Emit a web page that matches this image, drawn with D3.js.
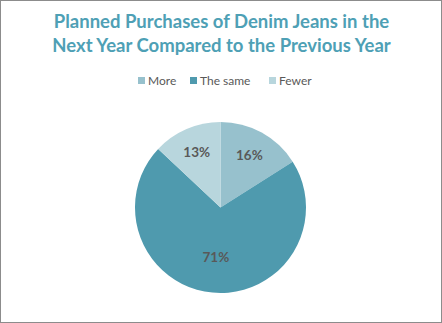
<!DOCTYPE html>
<html><head><meta charset="utf-8">
<script src="https://cdn.jsdelivr.net/npm/d3@7"></script>
<style>body{margin:0;background:#fff}svg{display:block}</style>
</head><body>
<script>
const categories = ["More", "The same", "Fewer"];
const values = [16, 71, 13];
const colors = ["#97c1cd", "#4f9aae", "#b8d6dd"];
const titleLines = ["Planned Purchases of Denim Jeans in the", "Next Year Compared to the Previous Year"];

const W = 442, H = 323;
const svg = d3.select("body").append("svg").attr("width", W).attr("height", H);
svg.append("rect").attr("x", 0.5).attr("y", 0.5).attr("width", W - 1).attr("height", H - 1)
  .attr("fill", "#fff").attr("stroke", "#8c8c8c");

const font = "Lato, 'Open Sans', sans-serif";
svg.selectAll("text.title").data(titleLines).join("text")
  .attr("x", W / 2 + 0.5).attr("y", (d, i) => 28 + i * 24)
  .attr("text-anchor", "middle").attr("font-family", font)
  .attr("font-weight", "bold").attr("font-size", 18.5).attr("fill", "#4ea0b5")
  .text(d => d);

// legend
const legendX = [138, 190, 269];
const lg = svg.append("g");
categories.forEach((c, i) => {
  const g = lg.append("g").attr("transform", `translate(${legendX[i]},77)`);
  g.append("rect").attr("width", 7).attr("height", 7).attr("fill", colors[i]);
  g.append("text").attr("x", 10).attr("y", 7.8).attr("font-family", font)
    .attr("font-size", 12).attr("fill", "#595959").text(c);
});

const cx = 220.5, cy = 207.5, r = 85.5;
const pie = d3.pie().sort(null).value(d => d)(values);
const arc = d3.arc().innerRadius(0).outerRadius(r);
const g = svg.append("g").attr("transform", `translate(${cx},${cy})`);
g.selectAll("path").data(pie).join("path")
  .attr("d", arc).attr("fill", (d, i) => colors[i]);

g.selectAll("text").data(pie).join("text")
  .attr("transform", d => {
    const k = d.data > 50 ? 0.58 : 0.7;
    const la = d3.arc().innerRadius(r * k).outerRadius(r * k);
    return `translate(${la.centroid(d)})`;
  })
  .attr("text-anchor", "middle").attr("dy", "0.35em")
  .attr("font-family", font).attr("font-weight", "bold").attr("font-size", 13.5)
  .attr("fill", "#595959").text(d => d.data + "%");
</script>
</body></html>
